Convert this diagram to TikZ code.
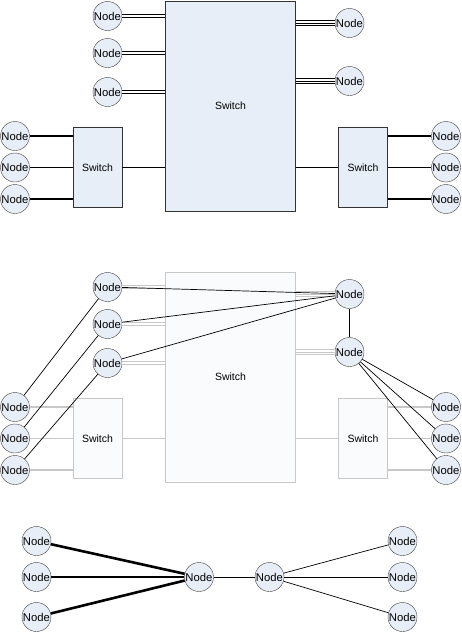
\documentclass[tikz,border=0pt]{standalone}
\usepackage{fontspec}
\setmainfont{Liberation Sans}
\definecolor{nodeblue}{HTML}{E8EEF7}
\definecolor{faded}{HTML}{C8C8C8}
\definecolor{fadedfill}{HTML}{FAFBFD}

\begin{document}
\begin{tikzpicture}[x=1pt, y=-1pt,
  host/.style={circle, draw=black!75, fill=nodeblue, minimum size=29pt, inner sep=0pt, font=\fontsize{11.3}{12}\selectfont},
  switch/.style={rectangle, draw=black!80, fill=nodeblue, inner sep=0pt, font=\fontsize{10.5}{12}\selectfont},
  ghost/.style={switch, draw=faded, fill=fadedfill},
  big/.style={minimum width=130pt, minimum height=210pt},
  small/.style={minimum width=49pt, minimum height=80pt},
  wire/.style={line width=1.2pt},
  pair/.style={double, double distance=2pt, line width=0.8pt},
  trio/.style={double, double distance=3.6pt, line width=0.8pt},
  link/.style={line width=0.7pt},
  trunk/.style={line width=2.6pt}]
\useasboundingbox (0,0) rectangle (462,632);

% switched network
\node[switch, big] (sw) at (230.5,106) {Switch};
\node[switch, small] (lsw) at (97.5,167.5) {Switch};
\node[switch, small] (rsw) at (363,167.5) {Switch};
\node[host] (tl1) at (107.5,16) {Node};
\node[host] (tl2) at (107.5,53) {Node};
\node[host] (tl3) at (107.5,92) {Node};
\node[host] (tr1) at (349.5,23) {Node};
\node[host] (tr2) at (349.5,81) {Node};
\foreach \i/\y in {1/136,2/167.5,3/199} {
  \node[host] (bl\i) at (15,\y) {Node};
  \node[host] (br\i) at (446,\y) {Node};
  \draw[wire] (bl\i) -- (bl\i -| lsw.west);
  \draw[wire] (br\i) -- (br\i -| rsw.east);
}
\foreach \n in {tl1,tl2,tl3} \draw[pair] (\n) -- (\n -| sw.west);
\foreach \n in {tr1,tr2} {
  \draw[trio] (sw.east |- \n) -- (\n);
  \draw[link] (sw.east |- \n) -- (\n);
}
\draw[wire] (lsw) -- (lsw -| sw.west);
\draw[wire] (rsw) -- (rsw -| sw.east);

% same nodes, shortest paths
\begin{scope}[shift={(0,271)}]
\node[ghost, big] (msw) at (230.5,106) {Switch};
\node[ghost, small] (mlsw) at (97.5,167.5) {Switch};
\node[ghost, small] (mrsw) at (363,167.5) {Switch};
\node[host] (mtl1) at (107.5,16) {Node};
\node[host] (mtl2) at (107.5,53) {Node};
\node[host] (mtl3) at (107.5,92) {Node};
\node[host] (mtr1) at (349.5,23) {Node};
\node[host] (mtr2) at (349.5,81) {Node};
\foreach \i/\y in {1/136,2/167.5,3/199} {
  \node[host] (mbl\i) at (15,\y) {Node};
  \node[host] (mbr\i) at (446,\y) {Node};
  \draw[wire, faded] (mbl\i) -- (mbl\i -| mlsw.west);
  \draw[wire, faded] (mbr\i) -- (mbr\i -| mrsw.east);
}
\foreach \n in {mtl1,mtl2,mtl3} \draw[pair, faded] (\n) -- (\n -| msw.west);
\foreach \n in {mtr1,mtr2} {
  \draw[trio, faded] (msw.east |- \n) -- (\n);
  \draw[link, faded] (msw.east |- \n) -- (\n);
}
\draw[wire, faded] (mlsw) -- (mlsw -| msw.west);
\draw[wire, faded] (mrsw) -- (mrsw -| msw.east);
\foreach \i in {1,2,3} {
  \draw[link] (mbl\i) -- (mtl\i);
  \draw[link] (mtl\i) -- (mtr1);
  \draw[link] (mtr2) -- (mbr\i);
}
\draw[link] (mtr1) -- (mtr2);
\end{scope}

% graph
\node[host] (c1) at (199,577) {Node};
\node[host] (c2) at (269.5,577) {Node};
\foreach \i/\y in {1/541,2/577,3/617} {
  \node[host] (a\i) at (36.5,\y) {Node};
  \node[host] (b\i) at (402.5,\y) {Node};
  \draw[trunk] (a\i) -- (c1);
  \draw[link] (c2) -- (b\i);
}
\draw[link] (c1) -- (c2);
\end{tikzpicture}
\end{document}
